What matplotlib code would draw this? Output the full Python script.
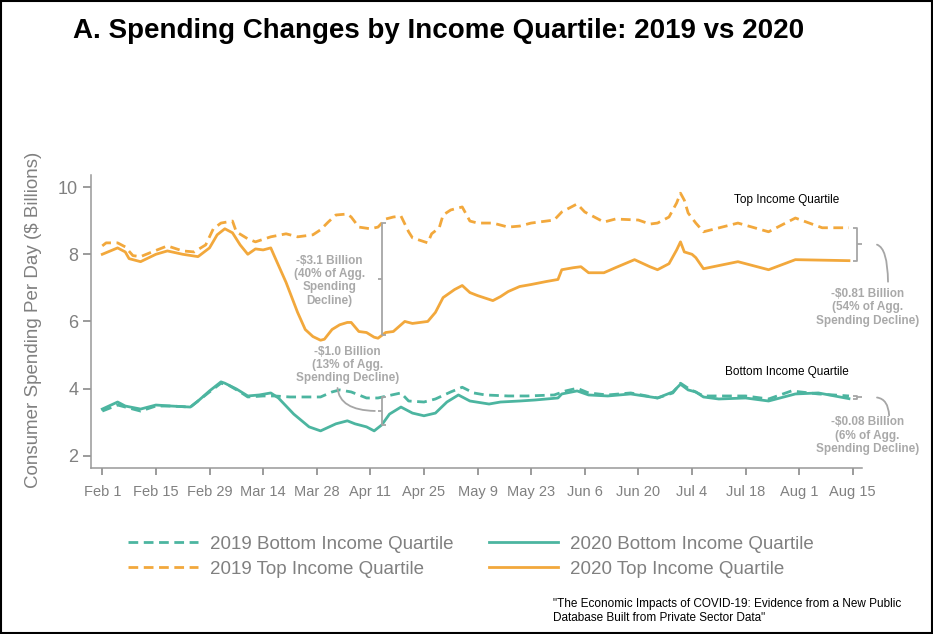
import numpy as np
import matplotlib
matplotlib.use("Agg")
import matplotlib.pyplot as plt

plt.rcParams['font.family'] = ['Liberation Sans', 'DejaVu Sans']

# days after Feb 1
tick_days = [0, 14, 28, 42, 56, 70, 84, 98, 112, 126, 140, 154, 168, 182, 196]
tick_labels = ['Feb 1', 'Feb 15', 'Feb 29', 'Mar 14', 'Mar 28', 'Apr 11', 'Apr 25',
               'May 9', 'May 23', 'Jun 6', 'Jun 20', 'Jul 4', 'Jul 18', 'Aug 1', 'Aug 15']

# 2020 top income quartile
top20_day = [0, 4, 6, 7, 10, 14, 17, 21, 25, 28, 30, 32, 34, 36, 38, 40, 42, 44, 45, 48,
             51, 53, 55, 57, 58, 60, 62, 64, 65, 67, 69, 71, 72, 74, 76, 79, 81, 85, 87, 89,
             92, 94, 96, 98, 102, 104, 106, 109, 112, 116, 119, 120, 123, 125, 127, 131,
             134, 139, 143, 145, 148, 150, 151, 152, 154, 155, 157, 166, 174, 181, 195]
top20_val = [8.0, 8.19, 8.07, 7.87, 7.78, 8.0, 8.1, 8.0, 7.93, 8.19, 8.58, 8.76, 8.64, 8.28,
             8.0, 8.16, 8.13, 8.19, 7.93, 7.16, 6.27, 5.76, 5.55, 5.44, 5.47, 5.76, 5.9,
             5.97, 5.97, 5.70, 5.67, 5.53, 5.5, 5.67, 5.70, 6.0, 5.94, 6.0, 6.27, 6.71, 6.95,
             7.07, 6.86, 6.77, 6.62, 6.74, 6.89, 7.04, 7.10, 7.19, 7.25, 7.54, 7.60, 7.63,
             7.45, 7.45, 7.60, 7.84, 7.63, 7.54, 7.72, 8.13, 8.37, 8.07, 8.0, 7.9, 7.57,
             7.78, 7.54, 7.84, 7.81]

# 2019 top income quartile
top19_day = [0, 1, 4, 6, 8, 10, 13, 17, 21, 24, 27, 29, 31, 34, 35, 38, 40, 44, 48, 51, 55,
             57, 59, 61, 64, 65, 67, 70, 72, 74, 76, 78, 80, 81, 85, 86, 88, 89, 91, 94, 96,
             98, 102, 106, 109, 112, 118, 120, 124, 126, 131, 134, 140, 143, 145, 148, 150,
             151, 152, 153, 155, 157, 166, 174, 181, 188, 195]
top19_val = [8.25, 8.34, 8.34, 8.22, 7.96, 7.93, 8.07, 8.25, 8.10, 8.07, 8.28, 8.76, 8.93,
             8.99, 8.67, 8.46, 8.37, 8.52, 8.61, 8.52, 8.58, 8.73, 8.96, 9.17, 9.2, 9.11,
             8.81, 8.76, 8.81, 9.05, 9.11, 9.14, 8.67, 8.49, 8.34, 8.61, 8.79, 9.17, 9.32,
             9.41, 8.99, 8.93, 8.93, 8.81, 8.84, 8.93, 9.02, 9.26, 9.5, 9.26, 8.96, 9.05,
             9.02, 8.9, 8.93, 9.11, 9.53, 9.82, 9.61, 9.23, 8.93, 8.67, 8.93, 8.67, 9.08,
             8.79, 8.79]

# 2020 bottom income quartile
bot20_day = [0, 4, 6, 10, 14, 18, 23, 25, 28, 31, 32, 35, 38, 41, 44, 46, 50, 54, 57, 61,
             64, 66, 69, 71, 73, 75, 78, 81, 84, 87, 90, 93, 96, 101, 104, 109, 113, 119,
             120, 124, 127, 132, 138, 145, 149, 151, 153, 155, 157, 161, 168, 174, 181,
             187, 195]
bot20_val = [3.39, 3.6, 3.48, 3.39, 3.51, 3.48, 3.45, 3.63, 3.93, 4.2, 4.16, 3.99, 3.78,
             3.81, 3.87, 3.72, 3.24, 2.86, 2.74, 2.95, 3.04, 2.95, 2.86, 2.74, 2.92, 3.24,
             3.45, 3.27, 3.19, 3.27, 3.6, 3.81, 3.63, 3.54, 3.6, 3.63, 3.66, 3.72, 3.84,
             3.93, 3.81, 3.78, 3.84, 3.72, 3.9, 4.13, 3.96, 3.9, 3.75, 3.69, 3.72, 3.63,
             3.84, 3.87, 3.70]

# 2019 bottom income quartile
bot19_day = [0, 4, 10, 14, 18, 23, 25, 28, 31, 33, 36, 38, 42, 45, 49, 53, 57, 60, 62, 65,
             69, 72, 78, 80, 84, 87, 91, 94, 97, 100, 106, 111, 118, 121, 124, 127, 132, 138,
             145, 149, 151, 153, 157, 161, 168, 174, 180, 187, 195]
bot19_val = [3.33, 3.51, 3.33, 3.48, 3.48, 3.45, 3.63, 3.9, 4.16, 4.1, 3.9, 3.75, 3.78,
             3.78, 3.75, 3.75, 3.75, 3.9, 3.96, 3.9, 3.72, 3.72, 3.87, 3.63, 3.6, 3.69, 3.9,
             4.04, 3.87, 3.81, 3.78, 3.78, 3.81, 3.93, 4.01, 3.87, 3.81, 3.87, 3.72, 3.87,
             4.16, 4.01, 3.78, 3.78, 3.78, 3.69, 3.93, 3.84, 3.78]

teal = '#4cb5a0'
orange = '#f2a83c'
grey = '#808080'
note = '#a9a9a9'

fig = plt.figure(figsize=(9.33, 6.34), dpi=100)
ax = fig.add_axes([0.0972, 0.2618, 0.8267, 0.4621])

lkw = dict(lw=2, solid_joinstyle='round', dash_joinstyle='round')
l1, = ax.plot(bot19_day, bot19_val, color=teal, dashes=(3.5, 2), **lkw)
l2, = ax.plot(top19_day, top19_val, color=orange, dashes=(3.5, 2), **lkw)
l3, = ax.plot(bot20_day, bot20_val, color=teal, **lkw)
l4, = ax.plot(top20_day, top20_val, color=orange, **lkw)

ax.set_xlim(-3.03, 198.4)
ax.set_ylim(1.634, 10.36)
ax.set_xticks(tick_days)
ax.set_xticklabels(tick_labels)
ax.set_yticks([2, 4, 6, 8, 10])
ax.tick_params(axis='x', colors=grey, labelsize=10.5, length=5, width=1.1, pad=7)
ax.tick_params(axis='y', colors=grey, labelsize=13, length=5.5, width=1.1, pad=3.5)
for s in ['top', 'right']:
    ax.spines[s].set_visible(False)
for s in ['left', 'bottom']:
    ax.spines[s].set_color('#999999')
    ax.spines[s].set_linewidth(1.1)


def bracket(x, y_hi, y_lo, side):
    # side=+1: ends point right, nub left; side=-1: ends point left, nub right
    w = 1.1
    kw = dict(color='#a6a6a6', lw=1.3, clip_on=False, solid_capstyle='butt')
    ax.plot([x + side * w, x, x, x + side * w], [y_hi, y_hi, y_lo, y_lo], **kw)
    ym = (y_hi + y_lo) / 2
    ax.plot([x, x - side * w], [ym, ym], **kw)
    return ym


# left brackets at mid April
bx = 73
ym = bracket(bx, np.interp(bx, top19_day, top19_val), np.interp(bx, top20_day, top20_val), 1)
ax.text(59.3, 7.21, '-$3.1 Billion\n(40% of Agg.\nSpending\nDecline)', ha='center',
        va='center', fontsize=8.5, fontweight='bold', color=note, linespacing=1.15)

ym = bracket(bx, np.interp(bx, bot19_day, bot19_val), np.interp(bx, bot20_day, bot20_val), 1)
ax.text(64, 4.70, '-$1.0 Billion\n(13% of Agg.\nSpending Decline)', ha='center',
        va='center', fontsize=8.5, fontweight='bold', color=note, linespacing=1.1)
ax.annotate('', xy=(bx - 1.1, ym), xytext=(61.4, 4.10), annotation_clip=False,
            arrowprops=dict(arrowstyle='-', color='#a6a6a6', lw=1.3,
                            connectionstyle='angle3,angleA=90,angleB=0'))

# right brackets at the end of the series
rx = 197.2
ym = bracket(rx, top19_val[-1], top20_val[-1], -1)
ax.annotate('', xy=(205.2, 7.1), xytext=(201.6, ym), annotation_clip=False,
            arrowprops=dict(arrowstyle='-', color='#a6a6a6', lw=1.3,
                            connectionstyle='angle3,angleA=0,angleB=90'))
ax.text(199.8, 7.0, '-$0.81 Billion\n(54% of Agg.\nSpending Decline)', ha='center',
        va='top', fontsize=8.5, fontweight='bold', color=note, linespacing=1.15,
        clip_on=False)

ym = bracket(rx, bot19_val[-1], bot20_val[-1], -1)
ax.annotate('', xy=(205.5, 3.12), xytext=(201.6, ym), annotation_clip=False,
            arrowprops=dict(arrowstyle='-', color='#a6a6a6', lw=1.3,
                            connectionstyle='angle3,angleA=0,angleB=90'))
ax.text(199.8, 3.17, '-$0.08 Billion\n(6% of Agg.\nSpending Decline)', ha='center',
        va='top', fontsize=8.5, fontweight='bold', color=note, linespacing=1.15,
        clip_on=False)

ax.text(178.6, 9.61, 'Top Income Quartile', ha='center', va='center', fontsize=8.5)
ax.text(178.9, 4.49, 'Bottom Income Quartile', ha='center', va='center', fontsize=8.5)

fig.text(0.078, 0.951, 'A. Spending Changes by Income Quartile: 2019 vs 2020',
         fontsize=20, fontweight='bold', va='center', ha='left')
fig.text(0.036, 0.495, 'Consumer Spending Per Day ($ Billions)', rotation=90,
         fontsize=13.5, color=grey, ha='center', va='center')

fig.legend([l1, l2, l3, l4],
           ['2019 Bottom Income Quartile', '2019 Top Income Quartile',
            '2020 Bottom Income Quartile', '2020 Top Income Quartile'],
           loc='center', bbox_to_anchor=(0.505, 0.122), ncol=2, frameon=False,
           fontsize=13.5, labelcolor=grey, handlelength=3.7, handletextpad=0.65,
           columnspacing=1.9, labelspacing=0.42)

fig.text(0.593, 0.057, '"The Economic Impacts of COVID-19: Evidence from a New Public\n'
         'Database Built from Private Sector Data"', fontsize=8.5, va='top', ha='left',
         linespacing=1.2)

fig.patches.append(plt.Rectangle((0.001, 0.001), 0.998, 0.998, transform=fig.transFigure,
                                 fill=False, edgecolor='black', lw=1.5))

fig.savefig('out.png', dpi=100)
